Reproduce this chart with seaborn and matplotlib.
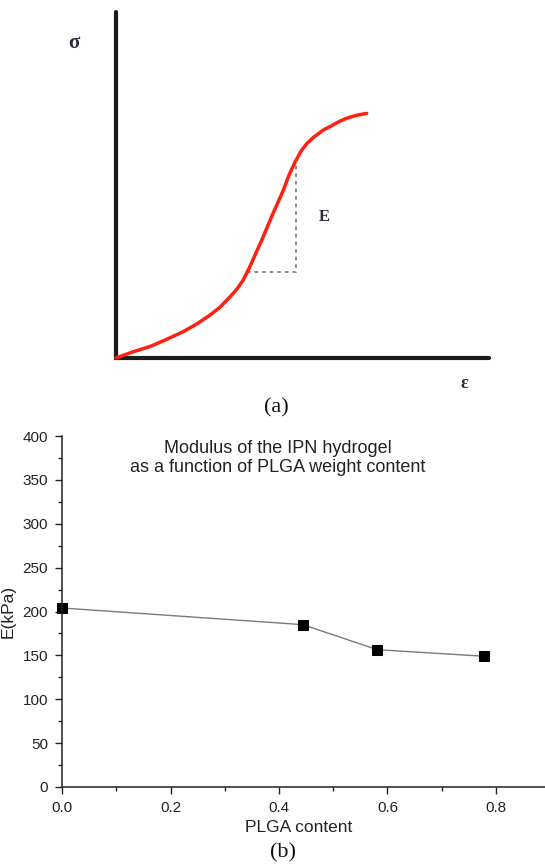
import numpy as np
import pandas as pd
import matplotlib
matplotlib.use("Agg")
import matplotlib.pyplot as plt
from matplotlib.ticker import MultipleLocator
import seaborn as sns

# ---------------- data ----------------
# (a) schematic stress-strain curve (arbitrary units)
strain = [0.00, 0.46, 0.91, 1.36, 1.80, 2.16, 2.52, 2.79, 3.06, 3.24, 3.41, 3.59,
          3.75, 3.91, 4.17, 4.49, 4.64, 4.80, 4.96, 5.12, 5.31, 5.56, 5.74, 6.01,
          6.19, 6.43, 6.72]
stress = [0.00, 0.18, 0.33, 0.54, 0.76, 0.98, 1.24, 1.47, 1.77, 1.99, 2.25, 2.64,
          3.03, 3.41, 4.08, 4.86, 5.29, 5.66, 5.98, 6.20, 6.39, 6.59, 6.69, 6.85,
          6.93, 7.01, 7.07]
frame_x = [0.0, 0.0, 10.0]
frame_y = [10.0, 0.0, 0.0]
slope_x = [3.52, 4.83, 4.83]
slope_y = [2.49, 2.49, 5.72]

# (b) modulus vs PLGA content
plga_content = [0.0, 0.444, 0.581, 0.778]
modulus_kpa = [204, 185, 156.5, 149]
y_ticks = [0, 50, 100, 150, 200, 250, 300, 350, 400]
x_ticks = [0.0, 0.2, 0.4, 0.6, 0.8]
x_ticklabels = ["0.0", "0.2", "0.4", "0.6", "0.8"]

title_text = "Modulus of the IPN hydrogel\nas a function of PLGA weight content"

# ---------------- style ----------------
sns.set_style("ticks")
plt.rcParams["font.family"] = ["Liberation Sans", "DejaVu Sans"]

W, H = 545, 866
fig = plt.figure(figsize=(W / 100, H / 100), dpi=100)

# ---------------- panel (a) ----------------
top_h = 420
ax_a = fig.add_axes([0, 1 - top_h / H, 1, top_h / H])
ax_a.set_xlim(-116 / 37.3, (W - 116) / 37.3)
ax_a.set_ylim((358 - top_h) / 34.6, 358 / 34.6)
ax_a.axis("off")

frame_df = pd.DataFrame({"x": frame_x, "y": frame_y})
sns.lineplot(data=frame_df, x="x", y="y", sort=False, estimator=None,
             color="#1c1c1c", lw=3.0, ax=ax_a, solid_joinstyle="miter")
slope_df = pd.DataFrame({"x": slope_x, "y": slope_y})
sns.lineplot(data=slope_df, x="x", y="y", sort=False, estimator=None,
             color="#808080", lw=1.3, ls=(0, (2.0, 2.2)), ax=ax_a)
curve_df = pd.DataFrame({"strain": strain, "stress": stress})
sns.lineplot(data=curve_df, x="strain", y="stress", sort=False, estimator=None,
             color="#ff2010", lw=2.5, ax=ax_a, solid_capstyle="round",
             solid_joinstyle="round")

serif = ["Liberation Serif", "DejaVu Serif"]
ax_a.text((74 - 116) / 37.3, (358 - 43) / 34.6, "σ", family=serif,
          fontweight="bold", fontsize=15, color="#2a2a3a", ha="center", va="center")
ax_a.text((464 - 116) / 37.3, (358 - 383) / 34.6, "ε", family=serif,
          fontweight="bold", fontsize=13, color="#2a2a3a", ha="center", va="center")
ax_a.text((324 - 116) / 37.3, (358 - 217) / 34.6, "E", family=serif,
          fontweight="bold", fontsize=12, color="#2a2a3a", ha="center", va="center")
fig.text(276 / W, 1 - 408 / H, "(a)", family=serif, fontsize=16,
         ha="center", va="center", color="#111111")

# ---------------- panel (b) ----------------
x0_px, y0_px, ytop_px = 62, 787, 436
px_per_x = 542.5
ax_b = fig.add_axes([x0_px / W, (H - y0_px) / H, (W - x0_px) / W, (y0_px - ytop_px) / H])
ax_b.set_facecolor("none")
sns.lineplot(x=plga_content, y=modulus_kpa, ax=ax_b, color="#7a7a7a", lw=1.0,
             marker="s", markersize=6.5, markerfacecolor="black",
             markeredgecolor="black", estimator=None, sort=False, clip_on=False)
ax_b.set_xlim(0, (W - x0_px) / px_per_x)
ax_b.set_ylim(0, 400)
ax_b.set_xticks(x_ticks)
ax_b.set_xticklabels(x_ticklabels)
ax_b.set_yticks(y_ticks)
ax_b.xaxis.set_minor_locator(MultipleLocator(0.1))
ax_b.yaxis.set_minor_locator(MultipleLocator(25))
ax_b.tick_params(which="major", direction="out", length=5, width=1.0,
                 color="#222222", labelsize=11, labelcolor="#222222", pad=5)
ax_b.tick_params(which="minor", direction="out", length=3, width=1.0, color="#222222")
for s in ["top", "right"]:
    ax_b.spines[s].set_visible(False)
for s in ["left", "bottom"]:
    ax_b.spines[s].set_linewidth(1.1)
    ax_b.spines[s].set_color("#222222")

ax_b.set_xlabel("PLGA content", fontsize=12.5, color="#222222")
ax_b.set_ylabel("E(kPa)", fontsize=12.5, color="#222222")
ax_b.xaxis.set_label_coords(0.49, -0.093)
ax_b.yaxis.set_label_coords(-0.095, 0.5)

fig.text(278 / W, 1 - 458 / H, title_text, fontsize=13, color="#222222",
         ha="center", va="center", linespacing=1.2)
fig.text(283 / W, 1 - 853 / H, "(b)", family=serif, fontsize=16,
         ha="center", va="center", color="#111111")

fig.savefig("out.png", dpi=100)
